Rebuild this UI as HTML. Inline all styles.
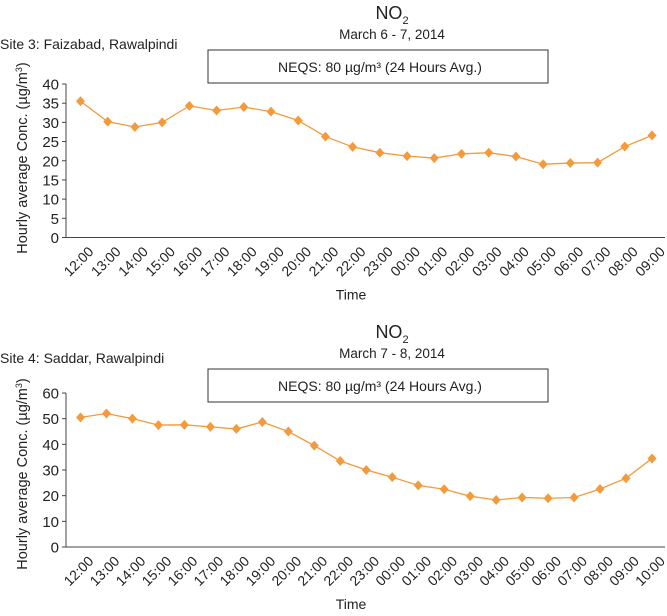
<!DOCTYPE html>
<html><head><meta charset="utf-8"><style>
body{margin:0;background:#fff;font-family:"Liberation Sans",sans-serif;}
svg text{font-family:"Liberation Sans",sans-serif;fill:#222;}
</style></head><body>
<svg width="667" height="611" id="svg"></svg>
<script>
const cats1=["12:00","13:00","14:00","15:00","16:00","17:00","18:00","19:00","20:00","21:00","22:00","23:00","00:00","01:00","02:00","03:00","04:00","05:00","06:00","07:00","08:00","09:00"];
const vals1=[35.5,30.2,28.8,30,34.3,33.1,34,32.8,30.5,26.3,23.6,22.1,21.2,20.7,21.8,22.1,21.1,19.1,19.4,19.5,23.7,26.6];
const ticks1=[0,5,10,15,20,25,30,35,40];
const cats2=["12:00","13:00","14:00","15:00","16:00","17:00","18:00","19:00","20:00","21:00","22:00","23:00","00:00","01:00","02:00","03:00","04:00","05:00","06:00","07:00","08:00","09:00","10:00"];
const vals2=[50.5,52,50,47.5,47.6,46.8,46,48.7,45,39.5,33.5,30,27.2,24,22.5,19.8,18.3,19.3,19,19.3,22.6,26.8,34.5];
const ticks2=[0,10,20,30,40,50,60];
const NS="http://www.w3.org/2000/svg";
const svg=document.getElementById('svg');
function mk(tag,attrs,parent,txt){const e=document.createElementNS(NS,tag);for(const k in attrs)e.setAttribute(k,attrs[k]);if(txt!==undefined)e.textContent=txt;(parent||svg).appendChild(e);return e;}
function chart(oy,cats,vals,ticks,ymax,y0,ytop,sub,site,id,siteY,boxY,ytc){
  const g=mk('g',{});
  
  
  const t=mk('text',{x:392,y:oy+19,'font-size':18,'text-anchor':'middle'},g);
  
  t.innerHTML='NO<tspan font-size="11" dy="5">2</tspan>';
  const s=mk('text',{x:392,y:oy+39,'font-size':13.5,'text-anchor':'middle'},g,sub);
  
  const si=mk('text',{x:0,y:siteY,'font-size':14},g,site);
  
  const b=mk('rect',{x:208,y:boxY,width:340,height:33,fill:'#fff',stroke:'#333','stroke-width':1},g);
  
  const bt=mk('text',{x:380,y:boxY+22,'font-size':14,'text-anchor':'middle'},g,'NEQS: 80 µg/m³  (24 Hours Avg.)');
  
  const x0=66,x1=665,px0=80.5,px1=652;
  const ys=v=>y0-(v/ymax)*(y0-ytop);
  const xs=i=>px0+i*(px1-px0)/(cats.length-1);
  const ax=mk('path',{d:`M${x0},${ytop} V${y0} H${x1}`,stroke:'#444',fill:'none','stroke-width':1},g);
  
  ticks.forEach(v=>{
    mk('line',{x1:x0-4,x2:x0,y1:ys(v),y2:ys(v),stroke:'#444'},g);
    const l=mk('text',{x:x0-7,y:ys(v)+5.5,'font-size':15,'text-anchor':'end'},g,v);
    
  });
  cats.forEach((c,i)=>{
    const x=xs(i);
    const l=mk('text',{x:x+7,y:y0+8,'font-size':14,'text-anchor':'end',transform:`rotate(-45 ${x+7} ${y0+8})`,dy:'0.7em'},g,c);
    
  });
  const xt=mk('text',{x:351,y:y0+62,'font-size':14,'text-anchor':'middle'},g,'Time');
  
  const yt=mk('text',{x:0,y:0,'font-size':14.5,'text-anchor':'middle',transform:`translate(27 ${ytc}) rotate(-90)`},g);
  
  yt.innerHTML='Hourly average Conc. (µg/m<tspan font-size="9" dy="-5">3</tspan><tspan dy="5">)</tspan>';
  const ln=mk('polyline',{points:vals.map((v,i)=>xs(i)+','+ys(v)).join(' '),fill:'none',stroke:'#f39a3c','stroke-width':1.3},g);
  
  vals.forEach((v,i)=>{
    const x=xs(i),y=ys(v);
    const m=mk('path',{d:`M${x},${y-5} L${x+4.5},${y} L${x},${y+5} L${x-4.5},${y} Z`,fill:'#f39a3c'},g);
    
  });
}
chart(0,cats1,vals1,ticks1,40,237.5,84,'March 6 - 7, 2014','Site 3: Faizabad, Rawalpindi','chart-site-3',49,50,158);
chart(319,cats2,vals2,ticks2,60,547,393,'March 7 - 8, 2014','Site 4: Saddar, Rawalpindi','chart-site-4',363,369,474);
</script>
</body></html>
